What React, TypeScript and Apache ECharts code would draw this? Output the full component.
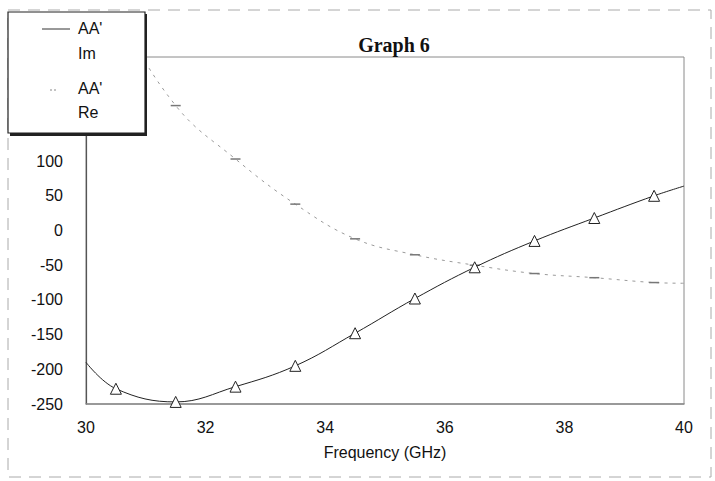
import React, { useEffect, useRef } from "react";
import * as echarts from "echarts";

const freqIm = [30, 30.5, 31.5, 32.5, 33.5, 34.5, 35.5, 36.5, 37.5, 38.5, 39.5, 40];
const valuesIm = [-190, -228, -247, -225, -195, -148, -98, -53, -15, 18, 50, 64];
const freqRe = [30, 30.5, 31.5, 32.5, 33.5, 34.5, 35.5, 36.5, 37.5, 38.5, 39.5, 40];
const valuesRe = [420, 320, 180, 103, 38, -12, -35, -50, -62, -68, -75, -76];
const xTicks = [30, 32, 34, 36, 38, 40];
const yTicks = [-250, -200, -150, -100, -50, 0, 50, 100, 150, 200, 250];

const SANS = "Liberation Sans, Arial, sans-serif";

export default function App() {
  const ref = useRef<HTMLDivElement>(null);
  useEffect(() => {
    if (!ref.current) return;
    const chart = echarts.init(ref.current, undefined, { renderer: "svg" });
    const edge = (arr: number[], i: number) => i === 0 || i === arr.length - 1;
    const imData = freqIm.map((f, i) => ({
      value: [f, valuesIm[i]],
      symbol: edge(freqIm, i) ? "none" : "triangle",
    }));
    const reData = freqRe.map((f, i) => ({
      value: [f, valuesRe[i]],
      symbol: edge(freqRe, i) ? "none" : "rect",
    }));
    const legendText = (text: string, y: number) => ({
      type: "text",
      x: 78,
      y,
      style: { text, fontFamily: SANS, fontSize: 16, fill: "#111", verticalAlign: "middle" },
      z: 12,
    });
    chart.setOption({
      animation: false,
      backgroundColor: "#ffffff",
      grid: {
        left: 86,
        right: 31,
        top: 57,
        bottom: 77,
        show: true,
        borderColor: "#8a8a8a",
        borderWidth: 1,
        backgroundColor: "transparent",
      },
      xAxis: {
        type: "value",
        min: xTicks[0],
        max: xTicks[xTicks.length - 1],
        interval: 2,
        name: "Frequency (GHz)",
        nameLocation: "middle",
        nameGap: 40,
        nameTextStyle: { fontFamily: SANS, fontSize: 16, color: "#111" },
        axisLine: { show: true, onZero: false, lineStyle: { color: "#8a8a8a", width: 1.5 } },
        axisTick: { show: false },
        splitLine: { show: false },
        axisLabel: { fontFamily: SANS, fontSize: 16, color: "#111", margin: 15 },
      },
      yAxis: {
        type: "value",
        min: yTicks[0],
        max: yTicks[yTicks.length - 1],
        interval: 50,
        axisLine: { show: true, onZero: false, lineStyle: { color: "#555", width: 1.2 } },
        axisTick: { show: false },
        splitLine: { show: false },
        axisLabel: { fontFamily: SANS, fontSize: 16, color: "#111", margin: 23 },
      },
      title: {
        text: "Graph 6",
        left: 389,
        top: 30,
        textAlign: "center",
        textStyle: {
          fontFamily: "Liberation Serif, Times New Roman, serif",
          fontWeight: "bold",
          fontSize: 20,
          color: "#111",
        },
      },
      series: [
        {
          name: "AA' Im",
          type: "line",
          data: imData,
          smooth: 0.4,
          symbolSize: 11,
          showAllSymbol: true,
          lineStyle: { color: "#222", width: 1 },
          itemStyle: { color: "#ffffff", borderColor: "#222", borderWidth: 1 },
          z: 3,
        },
        {
          name: "AA' Re",
          type: "line",
          data: reData,
          smooth: 0.4,
          symbolSize: [10, 1.5],
          showAllSymbol: true,
          lineStyle: { color: "#9a9a9a", width: 1, type: [3, 5] },
          itemStyle: { color: "#777" },
          z: 2,
        },
      ],
      graphic: [
        {
          type: "rect",
          shape: { x: 8, y: 10, width: 703, height: 467 },
          style: { fill: "none", stroke: "#aaa", lineWidth: 1, lineDash: [12, 8] },
          silent: true,
          z: 0,
        },
        {
          type: "rect",
          shape: { x: 10, y: 14, width: 137, height: 122 },
          style: { fill: "#222", stroke: "none" },
          z: 10,
        },
        {
          type: "rect",
          shape: { x: 8, y: 12, width: 137, height: 121 },
          style: { fill: "#ffffff", stroke: "#222", lineWidth: 1.2 },
          z: 11,
        },
        {
          type: "line",
          shape: { x1: 42, y1: 29, x2: 70, y2: 29 },
          style: { stroke: "#333", lineWidth: 1 },
          z: 12,
        },
        {
          type: "line",
          shape: { x1: 50, y1: 90, x2: 58, y2: 90 },
          style: { stroke: "#888", lineWidth: 1, lineDash: [2, 2] },
          z: 12,
        },
        legendText("AA'", 28),
        legendText("Im", 53),
        legendText("AA'", 88),
        legendText("Re", 112),
      ],
    });
    return () => chart.dispose();
  }, []);
  return (
    <div
      ref={ref}
      style={{ position: "fixed", left: 0, top: 0, width: 715, height: 481, background: "#fff" }}
    />
  );
}
